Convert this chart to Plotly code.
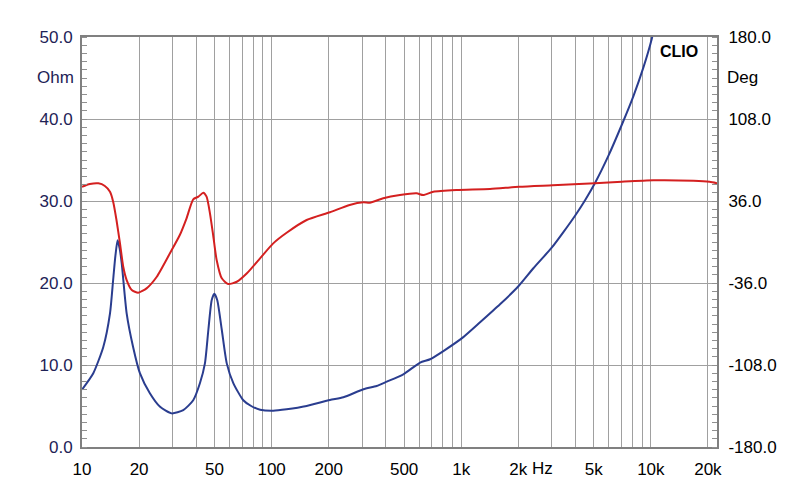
import numpy as np
import plotly.graph_objects as go

# Impedance magnitude (Ohm, left axis)
imp_freq = [10, 11.47, 12.95, 14.05, 14.6, 15.0, 15.4, 15.8, 16.2, 17.2, 18.6, 20.2, 22.8, 25.8, 29.7,
            34.2, 38.6, 41.9, 44.5, 46.4, 48.3, 49.9, 51.7, 54.6, 58.0, 62.8, 70.9, 78, 87, 102,
            120, 153, 203, 239, 305, 358, 405, 495, 607, 685, 805, 1026, 1257, 1602, 2002, 2402,
            3001, 3458, 3984, 4500, 5078, 5971, 7030, 8095, 9140, 10120, 10300]
imp_ohm = [7.0, 9.0, 12.2, 16.3, 20.4, 23.3, 25.2, 24.2, 22.4, 16.3, 12.2, 9.0, 6.55, 4.9, 4.1,
           4.5, 5.7, 7.8, 10.2, 14.3, 17.9, 18.7, 17.9, 14.3, 10.2, 7.8, 5.7, 5.0, 4.55, 4.43,
           4.6, 5.0, 5.73, 6.06, 7.04, 7.44, 7.97, 8.86, 10.3, 10.7, 11.7, 13.4, 15.2, 17.4, 19.6, 21.8,
           24.3, 26.2, 28.2, 30.1, 32.2, 35.5, 39.3, 42.8, 46.3, 49.8, 50.6]

# Phase (Deg, right axis)
ph_freq = [10, 11.0, 12.2, 13.2, 14.05, 14.6, 15.2, 15.86, 16.5, 17.2, 18.3, 19.8, 21.9, 24.8,
           29.1, 32.8, 35.6, 38.6, 41.1, 43.6, 45.4, 47.3, 49.3, 51.3, 54.6, 59.0, 65.5, 74.1,
           86.9, 102, 120, 153, 203, 258, 305, 330, 388, 475, 582, 630, 713, 943, 1419, 2021,
           3036, 5078, 7030, 10300, 16800, 20400, 22600]
ph_deg = [48.5, 50.9, 51.5, 49.2, 44.1, 35.4, 19.3, -1.2, -21.7, -33.4, -42.2, -44.5, -40.7, -30.5,
          -9.9, 6.1, 20.8, 37.5, 39.8, 43.3, 39.8, 25.2, 4.6, -15.8, -31.9, -36.9, -34.9, -27.5,
          -14.3, -1.2, 8.1, 19.3, 26.1, 32.5, 34.8, 34.5, 38.4, 41.2, 42.7, 41.2, 44.1, 45.6, 46.5, 48.5,
          49.8, 51.5, 52.9, 54.2, 53.8, 52.9, 51.5]

x_labels = {10: "10", 20: "20", 50: "50", 100: "100", 200: "200", 500: "500",
            1000: "1k", 2000: "2k", 5000: "5k", 10000: "10k", 20000: "20k"}
left_ticks = [0, 10, 20, 30, 40, 50]
right_ticks = [-180, -108, -36, 36, 108, 180]

grid_vals = []
for dec in [10, 100, 1000, 10000]:
    for m in range(1, 10):
        v = dec * m
        if v <= 20000:
            grid_vals.append(v)
grid_text = [x_labels.get(v, "") for v in grid_vals]

BLUE = "#2a3d8f"
RED = "#d42020"
NAVY = "#1e2256"
FONT = "Liberation Sans, Arial, sans-serif"

fig = go.Figure()
fig.add_trace(go.Scatter(x=imp_freq, y=imp_ohm, mode="lines",
                         line=dict(color=BLUE, width=2, shape="spline", smoothing=0.6),
                         yaxis="y", showlegend=False))
fig.add_trace(go.Scatter(x=ph_freq, y=ph_deg, mode="lines",
                         line=dict(color=RED, width=2, shape="spline", smoothing=0.6),
                         yaxis="y2", showlegend=False))

fig.update_layout(
    width=800, height=504,
    margin=dict(l=82, r=83, t=37, b=57),
    paper_bgcolor="white", plot_bgcolor="white",
    font=dict(family=FONT, size=17, color="black"),
    xaxis=dict(type="log", range=[1, 4.349], tickvals=grid_vals, ticktext=grid_text,
               showgrid=True, gridcolor="#a0a0a0", gridwidth=1, ticks="",
               showline=True, linecolor="#808080", linewidth=2, mirror=True,
               tickfont=dict(size=17, color="black"), ticklabelstandoff=6, zeroline=False),
    yaxis=dict(range=[0, 50], tickvals=left_ticks, ticktext=[f"{v:.1f}" for v in left_ticks],
               showgrid=True, gridcolor="#a0a0a0", gridwidth=1, ticks="",
               showline=True, linecolor="#808080", linewidth=2, mirror=True, zeroline=False,
               tickfont=dict(size=17, color=NAVY), ticklabelstandoff=4,
               minor=dict(dtick=1, ticks="inside", ticklen=5, tickcolor="#909090", showgrid=False)),
    yaxis2=dict(range=[-180, 180], overlaying="y", side="right", tickvals=right_ticks,
                ticktext=[f"{v:.1f}" for v in right_ticks], showgrid=False, ticks="",
                zeroline=False, tickfont=dict(size=17, color="black"), ticklabelstandoff=6,
                showline=True, linecolor="#808080", linewidth=2,
                minor=dict(dtick=7.2, ticks="inside", ticklen=5, tickcolor="#909090", showgrid=False)),
)

fig.add_annotation(text="Ohm", xref="paper", yref="paper", x=-0.042, y=0.902,
                   xanchor="center", yanchor="middle", showarrow=False,
                   font=dict(family=FONT, size=17, color=NAVY))
fig.add_annotation(text="Deg", xref="paper", yref="paper", x=1.04, y=0.902,
                   xanchor="center", yanchor="middle", showarrow=False,
                   font=dict(family=FONT, size=17, color="black"))
fig.add_annotation(text="<b>CLIO</b>", xref="paper", yref="paper", x=(679 - 82) / 635, y=0.965,
                   xanchor="center", yanchor="middle", showarrow=False,
                   font=dict(family=FONT, size=16, color="black"))
fig.add_annotation(text="Hz", xref="paper", yref="paper", x=(542 - 82) / 635, y=-0.052,
                   xanchor="center", yanchor="middle", showarrow=False,
                   font=dict(family=FONT, size=17, color="black"))

fig.write_html("out.html")
